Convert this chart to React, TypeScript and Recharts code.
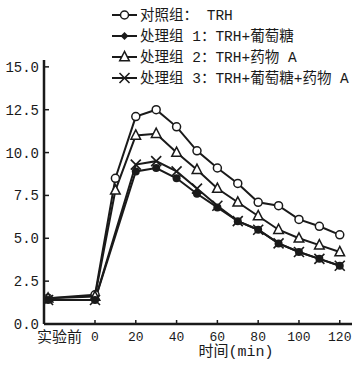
import { LineChart, Line, XAxis, YAxis } from 'recharts';

const minutes = [-23, 0, 10, 20, 30, 40, 50, 60, 70, 80, 90, 100, 110, 120];
const controlValues = [1.5, 1.7, 8.5, 12.1, 12.5, 11.5, 10.1, 9.1, 8.2, 7.1, 6.9, 6.1, 5.7, 5.2];
const group1Values = [1.4, 1.4, null, 8.9, 9.1, 8.5, 7.6, 6.8, 6.0, 5.5, 4.7, 4.2, 3.8, 3.4];
const group2Values = [1.5, 1.6, 7.8, 11.0, 11.1, 10.0, 9.0, 7.9, 7.1, 6.3, 5.5, 5.0, 4.6, 4.2];
const group3Values = [1.4, 1.4, null, 9.3, 9.5, 8.9, 7.9, 6.9, 6.0, 5.5, 4.7, 4.2, 3.8, 3.4];

const seriesNames = ['对照组： TRH', '处理组 1：TRH+葡萄糖', '处理组 2：TRH+药物 A', '处理组 3：TRH+葡萄糖+药物 A'];
const xTicks = [-23, 0, 20, 40, 60, 80, 100, 120];
const xTickLabels: Record<number, string> = { [-23]: '实验前' };
const yTicks = [0, 2.5, 5, 7.5, 10, 12.5, 15];
const xTitle = '时间(min)';

const data = minutes.map((m, i) => ({
  m,
  control: controlValues[i],
  g1: group1Values[i],
  g2: group2Values[i],
  g3: group3Values[i],
}));

const INK = '#1a1a1a';
const MONO = '"Liberation Mono", "Noto Sans CJK SC", monospace';
const AXIS_X = 44;
const AXIS_Y = 324;

type Shape = 'circle' | 'filled' | 'triangle' | 'cross' | 'diamond';

function marker(shape: Shape, cx: number, cy: number, key?: string) {
  if (cx == null || cy == null || isNaN(cx) || isNaN(cy)) return <g key={key} />;
  switch (shape) {
    case 'circle':
      return <circle key={key} cx={cx} cy={cy} r={4} fill="#fff" stroke={INK} strokeWidth={1.5} />;
    case 'filled':
      return <circle key={key} cx={cx} cy={cy} r={4} fill={INK} />;
    case 'diamond':
      return <polygon key={key} points={`${cx},${cy - 4} ${cx + 4},${cy} ${cx},${cy + 4} ${cx - 4},${cy}`} fill={INK} />;
    case 'triangle':
      return (
        <polygon
          key={key}
          points={`${cx},${cy - 5.5} ${cx - 4.8},${cy + 3.8} ${cx + 4.8},${cy + 3.8}`}
          fill="#fff"
          stroke={INK}
          strokeWidth={1.5}
        />
      );
    default:
      return (
        <g key={key} stroke={INK} strokeWidth={1.6}>
          <line x1={cx - 5} y1={cy - 5} x2={cx + 5} y2={cy + 5} />
          <line x1={cx - 5} y1={cy + 5} x2={cx + 5} y2={cy - 5} />
        </g>
      );
  }
}

const dotFor = (shape: Shape) => (props: any) =>
  marker(shape, props.cx, props.cy, `${shape}-${props.index}`);

const XTick = (props: any) => {
  const { x, payload } = props;
  const v = payload.value as number;
  const label = xTickLabels[v];
  if (label) {
    return (
      <text x={x - 11} y={AXIS_Y + 18} textAnchor="start" fontSize={15} fill={INK} fontFamily={MONO}>
        {label}
      </text>
    );
  }
  return (
    <g>
      <line x1={x} x2={x} y1={AXIS_Y} y2={AXIS_Y - 4} stroke={INK} strokeWidth={1.5} />
      <text x={x} y={AXIS_Y + 17} textAnchor="middle" fontSize={13} fill={INK} fontFamily={MONO}>
        {v}
      </text>
    </g>
  );
};

const YTick = (props: any) => {
  const { y, payload } = props;
  return (
    <g>
      <line x1={AXIS_X} x2={AXIS_X + 5} y1={y} y2={y} stroke={INK} strokeWidth={1.5} />
      <text x={AXIS_X - 5} y={y + 5} textAnchor="end" fontSize={14} fill={INK} fontFamily={MONO}>
        {(payload.value as number).toFixed(1)}
      </text>
    </g>
  );
};

const legendShapes: Shape[] = ['circle', 'diamond', 'triangle', 'cross'];

function LegendBox() {
  return (
    <svg width={251} height={90} style={{ position: 'absolute', left: 108, top: 4 }}>
      {seriesNames.map((name, i) => {
        const y = 11 + i * 21;
        return (
          <g key={name}>
            <line x1={4} x2={29} y1={y} y2={y} stroke={INK} strokeWidth={2} />
            {marker(legendShapes[i], 16.5, y)}
            <text x={32} y={y + 5} fontSize={14.5} fill={INK} fontFamily={MONO}>
              {name}
            </text>
          </g>
        );
      })}
    </svg>
  );
}

export default function App() {
  return (
    <div style={{ position: 'absolute', left: 0, top: 0, width: 359, height: 365, background: '#fff' }}>
      <LineChart width={359} height={365} data={data} margin={{ top: 60, right: 7, left: 0, bottom: 0 }}>
        <XAxis
          dataKey="m"
          type="number"
          domain={[-25, 126]}
          ticks={xTicks}
          interval={0}
          tick={<XTick />}
          tickLine={false}
          axisLine={{ stroke: INK, strokeWidth: 2.5 }}
          height={41}
          allowDataOverflow
        />
        <YAxis
          type="number"
          domain={[0, 15.4]}
          ticks={yTicks}
          interval={0}
          tick={<YTick />}
          tickLine={false}
          axisLine={{ stroke: INK, strokeWidth: 2.5 }}
          width={44}
          allowDataOverflow
        />
        <Line dataKey="control" stroke={INK} strokeWidth={2} dot={dotFor('circle')} isAnimationActive={false} connectNulls />
        <Line dataKey="g2" stroke={INK} strokeWidth={2} dot={dotFor('triangle')} isAnimationActive={false} connectNulls />
        <Line dataKey="g1" stroke={INK} strokeWidth={2} dot={dotFor('filled')} isAnimationActive={false} connectNulls />
        <Line dataKey="g3" stroke={INK} strokeWidth={2} dot={dotFor('cross')} isAnimationActive={false} connectNulls />
      </LineChart>
      <LegendBox />
      <div
        style={{
          position: 'absolute',
          left: 0,
          width: 472,
          top: 343,
          textAlign: 'center',
          fontSize: 15,
          color: INK,
          fontFamily: MONO,
          lineHeight: '20px',
        }}
      >
        {xTitle}
      </div>
    </div>
  );
}
